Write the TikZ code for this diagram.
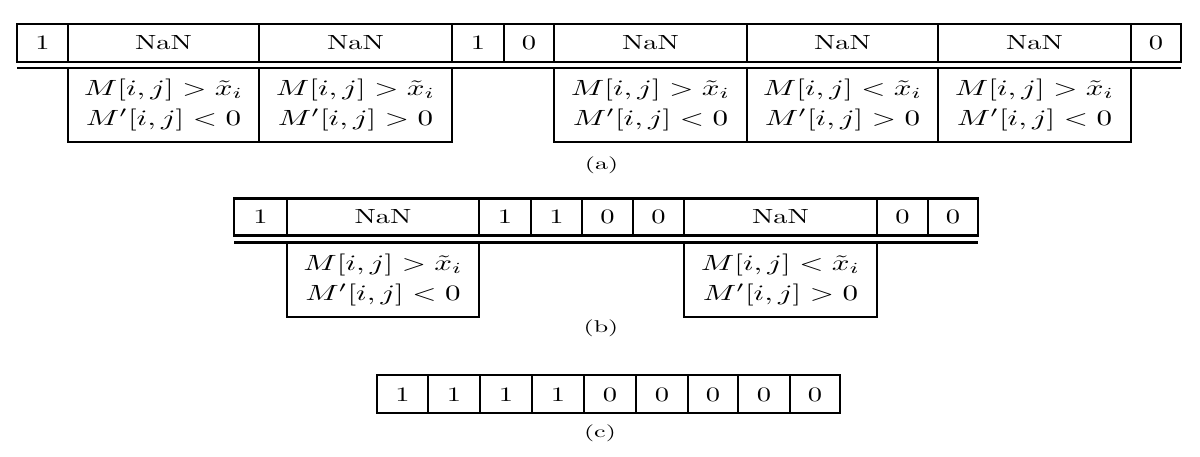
\documentclass[tikz,border=0pt]{standalone}
\usepackage{amsmath}
\newcommand\sxa[1]{\scalebox{2.85}[2.05]{#1}}
\newcommand\sxb[1]{\scalebox{3.1}[2.2]{#1}}
\newcommand\sxc[1]{\scalebox{2.6}[1.7]{#1}}
\newcommand\condgt{\sxb{$M[i,j] > \tilde{x}_i$}}
\newcommand\condlt{\sxb{$M[i,j] < \tilde{x}_i$}}
\newcommand\mlt{\sxb{$M'[i,j] < 0$}}
\newcommand\mgt{\sxb{$M'[i,j] > 0$}}
\begin{document}
\begin{tikzpicture}[x=1pt,y=-1pt,
  cell/.style={draw, line width=2.2pt, rectangle, inner sep=0pt, outer sep=0pt,
    text height=14pt, text depth=0pt},
  cond/.style={draw, line width=2.2pt, rectangle, inner sep=0pt, outer sep=0pt,
    align=center, font=\fontsize{10}{30}\selectfont},
  rule/.style={line width=2.2pt},
  captxt/.style={inner sep=0pt}]
\useasboundingbox (0,0) rectangle (1200,457);
% ---------- (a) ----------
\def\h{38}
\node[cell, minimum width=51, minimum height=\h] (a1) at (42.5,43) {\sxa{1}};
\node[cell, minimum width=191, minimum height=\h] (a2) at (163.5,43) {\sxa{NaN}};
\node[cell, minimum width=193, minimum height=\h] (a3) at (355.5,43) {\sxa{NaN}};
\node[cell, minimum width=52, minimum height=\h] (a4) at (478,43) {\sxa{1}};
\node[cell, minimum width=50, minimum height=\h] (a5) at (529,43) {\sxa{0}};
\node[cell, minimum width=193, minimum height=\h] (a6) at (650.5,43) {\sxa{NaN}};
\node[cell, minimum width=191, minimum height=\h] (a7) at (842.5,43) {\sxa{NaN}};
\node[cell, minimum width=193, minimum height=\h] (a8) at (1034.5,43) {\sxa{NaN}};
\node[cell, minimum width=50, minimum height=\h] (a9) at (1156,43) {\sxa{0}};
\draw[rule] ([yshift=-6pt]a1.south west) -- ([yshift=-6pt]a9.south east);
\node[cond, minimum width=191, minimum height=74] (la2) at (163.5,105) {\condgt\\\mlt};
\node[cond, minimum width=193, minimum height=74] (la3) at (355.5,105) {\condgt\\\mgt};
\node[cond, minimum width=193, minimum height=74] (la6) at (650.5,105) {\condgt\\\mlt};
\node[cond, minimum width=191, minimum height=74] (la7) at (842.5,105) {\condlt\\\mgt};
\node[cond, minimum width=193, minimum height=74] (la8) at (1034.5,105) {\condgt\\\mlt};
\node[captxt] (capa) at (601.5,165) {\sxc{(a)}};
% ---------- (b) ----------
\def\h{37}
\node[cell, minimum width=53, minimum height=\h] (b1) at (260.5,217) {\sxa{1}};
\node[cell, minimum width=192, minimum height=\h] (b2) at (383,217) {\sxa{NaN}};
\node[cell, minimum width=52, minimum height=\h] (b3) at (505,217) {\sxa{1}};
\node[cell, minimum width=51, minimum height=\h] (b4) at (556.5,217) {\sxa{1}};
\node[cell, minimum width=51, minimum height=\h] (b5) at (607.5,217) {\sxa{0}};
\node[cell, minimum width=51, minimum height=\h] (b6) at (658.5,217) {\sxa{0}};
\node[cell, minimum width=193, minimum height=\h] (b7) at (780.5,217) {\sxa{NaN}};
\node[cell, minimum width=51, minimum height=\h] (b8) at (902.5,217) {\sxa{0}};
\node[cell, minimum width=50, minimum height=\h] (b9) at (953,217) {\sxa{0}};
\draw[rule] ([yshift=-7pt]b1.south west) -- ([yshift=-7pt]b9.south east);
\node[cond, minimum width=192, minimum height=74] (lb2) at (383,280) {\condgt\\\mlt};
\node[cond, minimum width=193, minimum height=74] (lb7) at (780.5,280) {\condlt\\\mgt};
\node[captxt] (capb) at (601,328) {\sxc{(b)}};
% ---------- (c) ----------
\def\h{38}
\node[cell, minimum width=51, minimum height=\h] (c1) at (402.5,394) {\sxa{1}};
\node[cell, minimum width=52, minimum height=\h] (c2) at (454,394) {\sxa{1}};
\node[cell, minimum width=52, minimum height=\h] (c3) at (506,394) {\sxa{1}};
\node[cell, minimum width=52, minimum height=\h] (c4) at (558,394) {\sxa{1}};
\node[cell, minimum width=52, minimum height=\h] (c5) at (610,394) {\sxa{0}};
\node[cell, minimum width=52, minimum height=\h] (c6) at (662,394) {\sxa{0}};
\node[cell, minimum width=50, minimum height=\h] (c7) at (713,394) {\sxa{0}};
\node[cell, minimum width=52, minimum height=\h] (c8) at (764,394) {\sxa{0}};
\node[cell, minimum width=50, minimum height=\h] (c9) at (815,394) {\sxa{0}};
\node[captxt] (capc) at (600,433) {\sxc{(c)}};
\end{tikzpicture}
\end{document}
